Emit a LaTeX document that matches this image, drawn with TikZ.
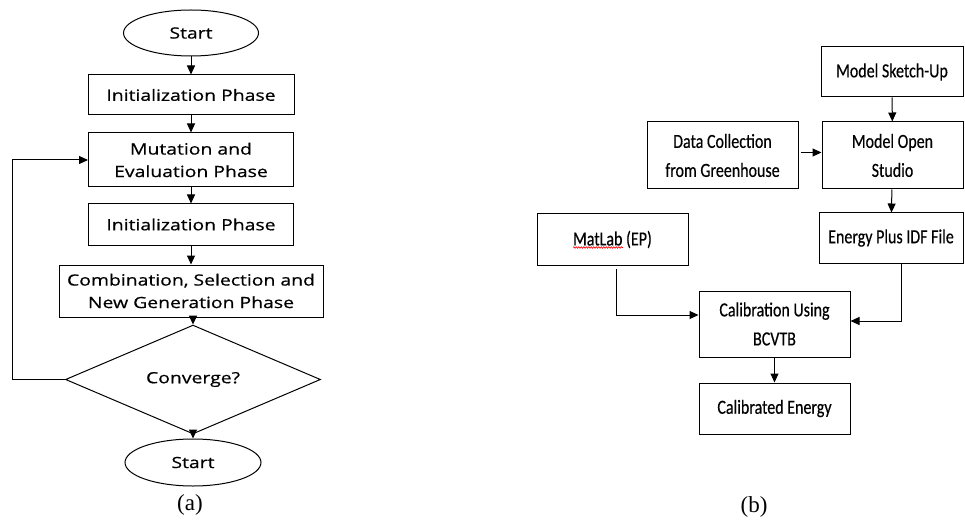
\documentclass[tikz,border=0pt]{standalone}
\usepackage{fontspec}
\setmainfont{Liberation Serif}
\newfontfamily\lfont[FakeStretch=1.25,FakeBold=0.6]{Open Sans}
\newfontfamily\rfont[FakeStretch=0.8,FakeBold=0.4]{Carlito}
\usetikzlibrary{shapes.geometric,arrows.meta,decorations.pathmorphing}
\begin{document}
\begin{tikzpicture}[x=1pt,y=-1pt,
  lbox/.style={draw, line width=1pt, rectangle, inner sep=0pt, align=center,
    font=\lfont\fontsize{15.5}{22.5}\selectfont},
  lell/.style={draw, line width=1pt, ellipse, inner sep=0pt,
    font=\lfont\fontsize{15.5}{22.5}\selectfont},
  ldia/.style={draw, line width=1pt, diamond, inner sep=0pt,
    font=\lfont\fontsize{15.5}{22.5}\selectfont},
  rbox/.style={draw, line width=1pt, rectangle, inner sep=0pt, align=center,
    font=\rfont\fontsize{20}{29}\selectfont},
  arr/.style={-{Triangle[length=9pt,width=8pt]}, line width=1pt},
  capt/.style={font=\fontsize{23}{26}\selectfont}
]
\useasboundingbox (0,0) rectangle (965,521);
% ---- (a) ----
\node[lell, minimum width=135pt, minimum height=46pt] (start) at (191,33) {Start};
\node[lbox, minimum width=206pt, minimum height=40pt] (init1) at (191,95) {Initialization Phase};
\node[lbox, minimum width=205pt, minimum height=54pt] (mut) at (191,160) {Mutation and\\Evaluation Phase};
\node[lbox, minimum width=205pt, minimum height=41pt] (init2) at (191,224.5) {Initialization Phase};
\node[lbox, minimum width=264pt, minimum height=52pt] (comb) at (191,291) {Combination, Selection and\\New Generation Phase};
\node[ldia, minimum width=255pt, minimum height=87pt] (conv) at (193,379.5) {Converge?};
\node[lell, minimum width=136pt, minimum height=47pt] (stop) at (193,462.5) {Start};
\coordinate (loopa) at (12,379.5);
\coordinate (loopb) at (12,160);
\draw[arr] (start) -- (init1);
\draw[arr] (init1) -- (mut);
\draw[arr] (mut) -- (init2);
\draw[arr] (init2) -- (comb);
\draw[arr] (comb.south -| conv.north) -- (conv.north);
\draw[arr] (conv) -- (stop);
\draw[arr] (conv.west) -- (loopa) -- (loopb) -- (mut.west);
\node[capt] (capa) at (190,505) {(a)};
% ---- (b) ----
\node[rbox, minimum width=142pt, minimum height=50pt] (sketch) at (892,72) {Model Sketch-Up};
\node[rbox, minimum width=141pt, minimum height=67pt] (open) at (892.5,155.5) {Model Open\\Studio};
\node[rbox, minimum width=151pt, minimum height=67pt] (data) at (722.5,155.5) {Data Collection\\from Greenhouse};
\node[rbox, minimum width=144pt, minimum height=50pt] (eplus) at (891,238) {Energy Plus IDF File};
\node[rbox, minimum width=151pt, minimum height=51pt] (matlab) at (612.5,239.5) {MatLab (EP)};
\node[rbox, minimum width=151pt, minimum height=66pt] (calib) at (774.5,324) {Calibration Using\\BCVTB};
\node[rbox, minimum width=151pt, minimum height=51pt] (caled) at (774.5,408.5) {Calibrated Energy};
\draw[red, line width=0.6pt, decorate, decoration={snake, amplitude=0.8pt, segment length=2.5pt}]
  ([xshift=-39.5pt,yshift=-8pt]matlab.center) -- ([xshift=10.5pt,yshift=-8pt]matlab.center);
\draw[arr] (sketch) -- (open);
\draw[arr] ([yshift=3pt,xshift=2pt]data.east) -- ([yshift=3pt]open.west);
\draw[arr] (open) -- (eplus);
\draw[arr] ([xshift=3.5pt,yshift=-3pt]matlab.south) |- ([yshift=9pt]calib.west);
\draw[arr] ([xshift=10pt]eplus.south) |- ([yshift=3pt]calib.east);
\draw[arr] (calib) -- (caled);
\node[capt] (capb) at (754,507) {(b)};
\end{tikzpicture}
\end{document}
